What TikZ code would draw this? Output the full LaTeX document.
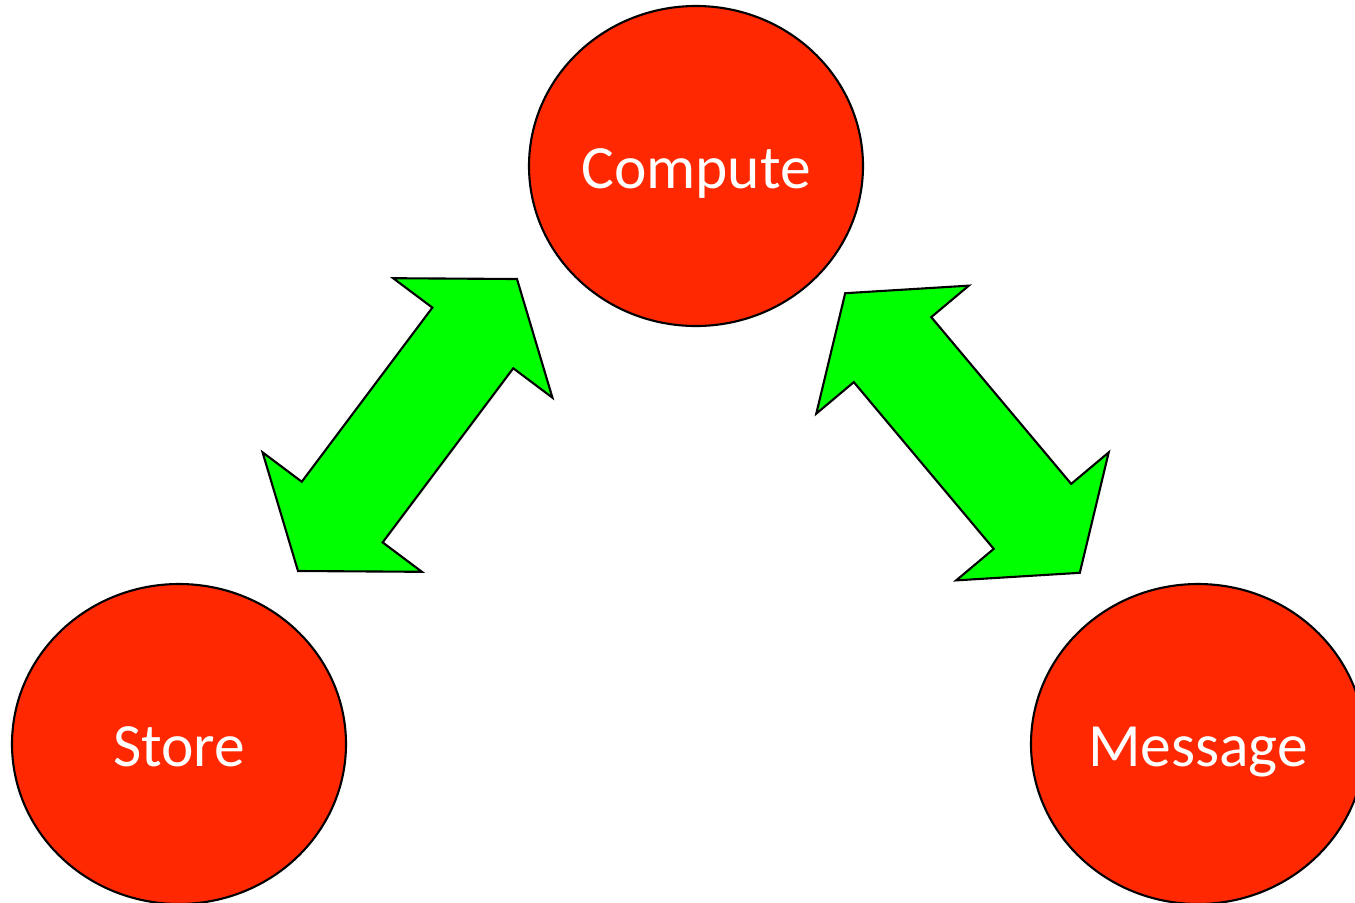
\documentclass[tikz,border=0pt]{standalone}
\usepackage{fontspec}
\setmainfont{Carlito}
\usetikzlibrary{shapes.geometric, shapes.arrows}

\definecolor{blobred}{RGB}{255,40,0}
\definecolor{linkgreen}{RGB}{0,255,0}

\begin{document}
\begin{tikzpicture}[x=0.1mm, y=-0.1mm,
	blob/.style={ellipse, draw=black, line width=0.6pt, fill=blobred, minimum width=33.4mm, minimum height=32mm, inner sep=0pt, text height=16.5pt, text depth=3.5pt, text=white, font=\fontsize{17.5}{20}\selectfont},
	link/.style={double arrow, draw=black, line width=0.6pt, fill=linkgreen, minimum height=36.5mm, double arrow head extend=4.9mm, double arrow tip angle=107, inner xsep=0pt, inner ysep=4.95mm}]
			\useasboundingbox (0,0) rectangle (1355,902);
			\begin{scope}
			\clip (0,0) rectangle (1355,902);
			\node[blob] (compute) at (696,166) {Compute};
			\node[blob] (store) at (179,744) {Store};
			\node[blob] (message) at (1198,744) {Message};
			\end{scope}
			
			\node[link, rotate=53.13] (storelink) at (407.5,425) {};
			\node[link, rotate=-50] (messagelink) at (962.5,433) {};
			
		\end{tikzpicture}
\end{document}
